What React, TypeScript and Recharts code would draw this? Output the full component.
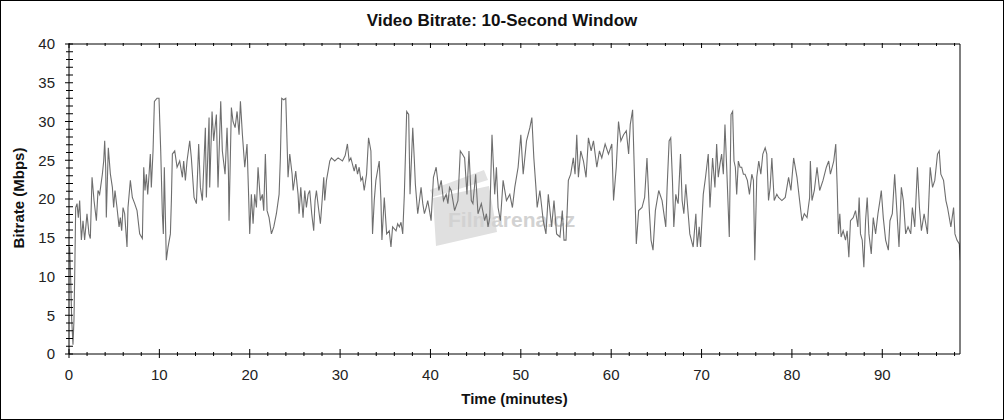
import React from 'react';
import { LineChart, Line, XAxis, YAxis } from 'recharts';

const FONT = '"Liberation Sans", Arial, Helvetica, sans-serif';

const chartTitle = 'Video Bitrate: 10-Second Window';
const xAxisTitle = 'Time (minutes)';
const yAxisTitle = 'Bitrate (Mbps)';
const watermarkText = 'Filmarena.cz';

// time of each 10-second window sample (minutes)
const minutes = [
  0.07, 0.18, 0.3, 0.44, 0.55, 0.63, 0.74, 0.89, 1.03, 1.18, 1.37, 1.55, 1.73, 1.99, 2.21, 2.36, 2.55, 2.77, 3.03, 3.21,
  3.39, 3.69, 3.84, 3.95, 4.06, 4.13, 4.35, 4.58, 4.8, 4.94, 5.09, 5.31, 5.54, 5.68, 5.83, 5.98, 6.16, 6.42, 6.53, 6.79,
  7.01, 7.27, 7.53, 7.82, 8.12, 8.27, 8.41, 8.56, 8.71, 8.86, 9.0, 9.11, 9.3, 9.45, 9.74, 9.96, 10.15, 10.33, 10.44, 10.55,
  10.66, 10.77, 10.96, 11.22, 11.33, 11.44, 11.7, 11.96, 12.25, 12.55, 12.69, 12.88, 13.06, 13.36, 13.54, 13.84, 14.1, 14.35, 14.54, 14.76,
  15.09, 15.2, 15.5, 15.57, 15.83, 16.01, 16.31, 16.49, 16.79, 16.97, 17.27, 17.49, 17.64, 17.71, 17.97, 18.15, 18.38, 18.6, 18.82, 18.97,
  19.19, 19.45, 19.7, 19.85, 20.0, 20.18, 20.37, 20.55, 20.74, 20.92, 21.18, 21.4, 21.55, 21.73, 21.92, 22.14, 22.4, 22.66, 22.95, 23.25,
  23.39, 23.54, 23.76, 23.99, 24.24, 24.43, 24.69, 24.8, 25.09, 25.35, 25.46, 25.65, 25.9, 26.09, 26.27, 26.46, 26.64, 26.86, 27.08, 27.23,
  27.38, 27.6, 27.82, 28.01, 28.19, 28.3, 28.49, 28.67, 28.86, 29.04, 29.41, 29.78, 30.26, 30.56, 30.81, 31.0, 31.19, 31.56, 31.74, 31.93,
  32.11, 32.3, 32.48, 32.67, 32.93, 33.15, 33.41, 33.59, 33.78, 33.96, 34.33, 34.52, 34.63, 34.89, 35.15, 35.44, 35.63, 35.81, 36.19, 36.37,
  36.56, 36.74, 36.93, 37.11, 37.37, 37.59, 37.74, 38.04, 38.22, 38.33, 38.59, 38.78, 38.96, 39.15, 39.33, 39.52, 39.7, 39.89, 40.07, 40.33,
  40.63, 40.93, 41.19, 41.44, 41.74, 41.93, 42.11, 42.3, 42.67, 43.04, 43.3, 43.52, 43.78, 44.04, 44.26, 44.52, 44.7, 45.0, 45.26, 45.63,
  46.0, 46.19, 46.37, 46.56, 46.81, 47.11, 47.3, 47.48, 47.74, 48.04, 48.41, 48.78, 49.07, 49.33, 49.7, 50.0, 50.26, 50.63, 51.0, 51.22,
  51.44, 51.67, 51.81, 52.11, 52.48, 52.78, 53.04, 53.41, 53.67, 53.96, 54.33, 54.59, 54.78, 55.0, 55.26, 55.52, 55.81, 56.0, 56.19, 56.37,
  56.63, 56.93, 57.22, 57.48, 57.78, 58.04, 58.41, 58.7, 58.96, 59.33, 59.7, 60.07, 60.26, 60.56, 60.81, 61.07, 61.37, 61.67, 61.93, 62.11,
  62.37, 62.59, 62.78, 63.04, 63.41, 63.7, 63.96, 64.22, 64.41, 64.63, 64.89, 65.26, 65.63, 66.04, 66.19, 66.41, 66.59, 66.78, 66.93, 67.15,
  67.3, 67.41, 67.67, 67.85, 68.04, 68.26, 68.52, 68.7, 69.07, 69.37, 69.52, 69.74, 69.89, 70.19, 70.44, 70.74, 70.93, 71.22, 71.48, 71.67,
  71.85, 72.04, 72.22, 72.41, 72.59, 72.78, 73.07, 73.26, 73.44, 73.59, 73.74, 73.89, 74.07, 74.26, 74.44, 74.63, 74.81, 75.07, 75.3, 75.56,
  75.74, 75.89, 76.11, 76.33, 76.56, 76.78, 77.04, 77.22, 77.41, 77.59, 77.78, 78.04, 78.33, 78.52, 78.89, 79.26, 79.63, 79.89, 80.19, 80.56,
  80.85, 81.11, 81.37, 81.67, 81.96, 82.04, 82.22, 82.48, 82.78, 83.07, 83.44, 83.81, 84.07, 84.26, 84.63, 84.85, 85.0, 85.15, 85.3, 85.44,
  85.67, 85.93, 86.11, 86.3, 86.48, 86.78, 87.04, 87.3, 87.44, 87.59, 87.78, 87.96, 88.15, 88.33, 88.52, 88.78, 89.0, 89.26, 89.52, 89.74,
  89.89, 90.11, 90.37, 90.67, 90.85, 91.11, 91.37, 91.59, 91.85, 92.11, 92.33, 92.59, 92.85, 93.15, 93.33, 93.59, 93.89, 94.11, 94.33, 94.63,
  95.0, 95.3, 95.56, 95.81, 96.11, 96.3, 96.48, 96.78, 97.04, 97.22, 97.59, 97.89, 98.04, 98.26, 98.52, 98.63,
];

// bitrate of each window (Mbps)
const bitrate = [
  13.8, 10.0, 4.4, 1.2, 4.4, 10.0, 18.9, 19.4, 17.6, 19.8, 14.7, 17.2, 14.7, 18.1, 15.5, 14.9, 22.8, 19.8, 17.2, 21.1,
  20.6, 23.2, 24.9, 27.5, 24.1, 17.6, 26.6, 23.2, 21.5, 18.9, 21.1, 18.9, 16.4, 17.6, 15.9, 18.9, 18.1, 13.8, 18.9, 22.4,
  20.2, 19.4, 18.5, 15.5, 14.9, 24.1, 21.1, 23.2, 20.6, 23.2, 25.8, 21.5, 26.2, 32.6, 33.0, 33.0, 26.2, 18.1, 15.5, 24.1,
  18.1, 12.1, 13.8, 15.5, 19.8, 25.8, 26.2, 24.1, 24.9, 22.8, 24.9, 22.4, 24.9, 27.5, 25.3, 20.2, 19.4, 27.1, 21.5, 19.8,
  29.2, 20.2, 30.5, 21.5, 31.3, 27.5, 30.9, 21.5, 32.6, 26.2, 23.2, 29.2, 23.6, 17.2, 31.8, 30.0, 29.2, 31.3, 28.3, 32.6,
  28.3, 24.1, 27.1, 21.5, 15.5, 20.6, 16.8, 20.6, 18.9, 24.1, 19.8, 20.6, 18.5, 25.8, 18.5, 17.6, 15.5, 16.4, 18.1, 20.6,
  25.3, 33.0, 32.8, 33.0, 22.8, 25.8, 23.2, 21.1, 23.6, 20.6, 18.1, 21.5, 17.6, 21.1, 18.9, 20.6, 21.1, 18.1, 15.9, 19.8,
  21.1, 18.9, 16.8, 19.8, 22.8, 19.8, 22.4, 23.6, 24.9, 25.3, 24.9, 25.3, 24.9, 25.6, 27.1, 24.9, 25.3, 23.6, 24.5, 23.2,
  24.1, 22.4, 22.8, 21.1, 23.2, 27.9, 26.2, 15.5, 19.8, 22.4, 24.9, 19.8, 14.7, 20.2, 15.5, 15.9, 13.8, 16.4, 15.9, 16.8,
  16.4, 17.0, 15.5, 20.6, 31.3, 30.9, 20.6, 29.2, 24.9, 21.9, 18.1, 19.8, 21.5, 19.4, 18.1, 18.9, 19.8, 18.5, 17.2, 22.8,
  24.1, 21.1, 22.4, 19.8, 20.6, 19.4, 21.5, 21.1, 18.5, 19.8, 26.2, 25.8, 25.3, 20.6, 26.2, 19.8, 19.4, 23.2, 18.1, 19.4,
  17.2, 18.1, 16.4, 17.6, 28.3, 20.6, 24.1, 18.9, 17.2, 22.4, 19.8, 20.6, 18.9, 21.5, 24.1, 28.3, 23.2, 27.5, 29.2, 30.5,
  25.3, 21.5, 18.9, 21.1, 17.2, 15.5, 20.6, 16.4, 19.8, 15.5, 15.1, 18.5, 14.7, 14.7, 22.4, 23.2, 25.3, 23.2, 28.3, 22.8,
  26.2, 24.9, 22.8, 27.9, 26.2, 27.5, 24.1, 26.2, 25.3, 27.1, 25.8, 27.1, 19.8, 24.1, 30.0, 27.5, 28.3, 28.8, 25.8, 29.6,
  31.5, 22.4, 14.2, 18.5, 18.9, 20.2, 25.3, 18.5, 14.7, 13.4, 18.5, 21.1, 19.8, 16.4, 21.5, 27.5, 27.9, 22.4, 16.4, 20.6,
  19.8, 19.4, 25.8, 19.8, 18.1, 21.9, 18.1, 15.5, 13.8, 18.1, 13.8, 16.4, 13.8, 20.6, 22.8, 25.8, 18.9, 25.3, 21.5, 27.1,
  22.8, 24.5, 25.8, 23.2, 29.6, 24.1, 15.1, 30.9, 31.3, 24.9, 24.1, 20.6, 24.9, 24.1, 24.1, 23.2, 23.2, 22.4, 20.6, 23.2,
  22.4, 12.1, 22.8, 24.9, 23.2, 25.8, 26.6, 25.8, 19.8, 21.5, 25.3, 19.8, 20.6, 20.2, 19.8, 20.2, 22.8, 21.1, 25.3, 22.8,
  19.8, 17.2, 18.1, 17.6, 20.2, 24.9, 19.8, 21.1, 24.1, 21.1, 22.4, 24.1, 24.9, 23.2, 24.9, 27.1, 21.9, 15.5, 18.1, 15.1,
  15.9, 14.7, 15.9, 12.5, 17.2, 17.6, 18.5, 16.4, 20.2, 15.5, 14.7, 11.2, 17.2, 20.2, 15.5, 12.9, 17.6, 15.5, 18.1, 19.8,
  21.1, 17.6, 14.7, 13.4, 17.2, 18.1, 23.2, 18.9, 13.8, 21.5, 19.8, 15.5, 16.4, 15.5, 18.9, 16.4, 24.1, 18.9, 15.9, 18.1,
  15.5, 24.1, 21.5, 22.4, 25.8, 26.2, 23.2, 22.4, 19.8, 18.9, 16.4, 18.9, 15.5, 14.7, 14.2, 12.1,
];

const X_MAX = 98.6;
const xMajorTicks = [0, 10, 20, 30, 40, 50, 60, 70, 80, 90];
const xAllTicks: number[] = [];
for (let m = 0; m <= 98; m += 2) xAllTicks.push(m);
const yMajorTicks = [0, 5, 10, 15, 20, 25, 30, 35, 40];
const yAllTicks: number[] = [];
for (let v = 0; v <= 40; v += 1) yAllTicks.push(v);

const data = minutes.map((t, i) => ({ t, v: bitrate[i] }));

const AXIS = '#000';
const LABEL = '#222';

const isMajorX = (v: number) => xMajorTicks.includes(v);
const isMajorY = (v: number) => yMajorTicks.includes(v);

const LeftTick = (p: any) => {
  const { x, y, payload } = p;
  const major = isMajorY(payload.value);
  return (
    <g>
      <line x1={x - (major ? 4 : 3)} x2={x + 4} y1={y} y2={y} stroke={AXIS} strokeWidth={1} />
      {major && (
        <text x={x - 14} y={y} dy="0.36em" textAnchor="end" fontSize={15} fill={LABEL} fontFamily={FONT}>
          {payload.value}
        </text>
      )}
    </g>
  );
};

const RightTick = (p: any) => {
  const { x, y, payload } = p;
  const major = isMajorY(payload.value);
  return (
    <g>
      <line x1={x - (major ? 5 : 3)} x2={x + (major ? 5 : 3)} y1={y} y2={y} stroke={AXIS} strokeWidth={1} />
      {major && (
        <text x={x + 12} y={y} dy="0.36em" textAnchor="start" fontSize={15} fill={LABEL} fontFamily={FONT}>
          {payload.value}
        </text>
      )}
    </g>
  );
};

const BottomTick = (p: any) => {
  const { x, y, payload } = p;
  const major = isMajorX(payload.value);
  return (
    <g>
      <line x1={x} x2={x} y1={y - (major ? 5 : 2)} y2={y + (major ? 4 : 2)} stroke={AXIS} strokeWidth={1} />
      {major && (
        <text x={x} y={y + 26} textAnchor="middle" fontSize={15} fill={LABEL} fontFamily={FONT}>
          {payload.value}
        </text>
      )}
    </g>
  );
};

const TopTick = (p: any) => {
  const { x, y, payload } = p;
  const major = isMajorX(payload.value);
  return <line x1={x} x2={x} y1={y - 1} y2={y + (major ? 4 : 2)} stroke={AXIS} strokeWidth={1} />;
};

export default function App() {
  return (
    <div style={{ position: 'absolute', left: 0, top: 0, width: 1004, height: 420, background: '#fff', overflow: 'hidden' }}>
      <svg width={1004} height={420} style={{ position: 'absolute', left: 0, top: 0 }}>
        <polygon points="433,198 489,186 497,232 436,246" fill="#e0e0e0" />
        <polygon points="430,190 484,170 488,180 433,197" fill="#e2e2e2" />
        <text x={448} y={227} fontSize={21} fontWeight="bold" fill="#d2d2d2" fontFamily={FONT}>
          {watermarkText}
        </text>
      </svg>
      <div style={{ position: 'absolute', left: 0, top: 0 }}>
        <LineChart width={1004} height={420} data={data} margin={{ top: 38, right: 4, bottom: 36, left: 9 }}>
          <XAxis
            xAxisId="b"
            dataKey="t"
            type="number"
            domain={[0, X_MAX]}
            allowDataOverflow
            ticks={xAllTicks}
            interval={0}
            tickSize={0}
            tickMargin={0}
            tick={BottomTick}
            tickLine={false}
            axisLine={{ stroke: AXIS }}
            height={30}
          />
          <XAxis
            xAxisId="top"
            orientation="top"
            dataKey="t"
            type="number"
            domain={[0, X_MAX]}
            allowDataOverflow
            ticks={xAllTicks}
            interval={0}
            tickSize={0}
            tickMargin={0}
            tick={TopTick}
            tickLine={false}
            axisLine={{ stroke: AXIS }}
            height={6}
          />
          <YAxis
            yAxisId="l"
            domain={[0, 40]}
            ticks={yAllTicks}
            interval={0}
            tickSize={0}
            tickMargin={0}
            tick={LeftTick}
            tickLine={false}
            axisLine={{ stroke: AXIS }}
            width={60}
          />
          <YAxis
            yAxisId="r"
            orientation="right"
            domain={[0, 40]}
            ticks={yAllTicks}
            interval={0}
            tickSize={0}
            tickMargin={0}
            tick={RightTick}
            tickLine={false}
            axisLine={{ stroke: AXIS }}
            width={40}
          />
          <Line
            xAxisId="b"
            yAxisId="l"
            dataKey="v"
            type="linear"
            stroke="#6e6e6e"
            strokeWidth={1.1}
            dot={false}
            activeDot={false}
            isAnimationActive={false}
          />
        </LineChart>
      </div>
      <div
        style={{
          position: 'absolute', left: 0, top: 11, width: 1004, textAlign: 'center', lineHeight: '20px',
          fontFamily: FONT, fontWeight: 'bold', fontSize: 17, color: '#111', whiteSpace: 'nowrap',
        }}
      >
        {chartTitle}
      </div>
      <div
        style={{
          position: 'absolute', left: 69, top: 390, width: 891, textAlign: 'center', lineHeight: '18px',
          fontFamily: FONT, fontWeight: 'bold', fontSize: 15, color: '#111', whiteSpace: 'nowrap',
        }}
      >
        {xAxisTitle}
      </div>
      <div
        style={{
          position: 'absolute', left: 19, top: 198, transform: 'translate(-50%, -50%) rotate(-90deg)', lineHeight: '18px',
          fontFamily: FONT, fontWeight: 'bold', fontSize: 15, color: '#111', whiteSpace: 'nowrap',
        }}
      >
        {yAxisTitle}
      </div>
      <div style={{ position: 'absolute', left: 0, top: 0, width: 1004, height: 420, border: '1px solid #000', boxSizing: 'border-box', pointerEvents: 'none' }} />
    </div>
  );
}
